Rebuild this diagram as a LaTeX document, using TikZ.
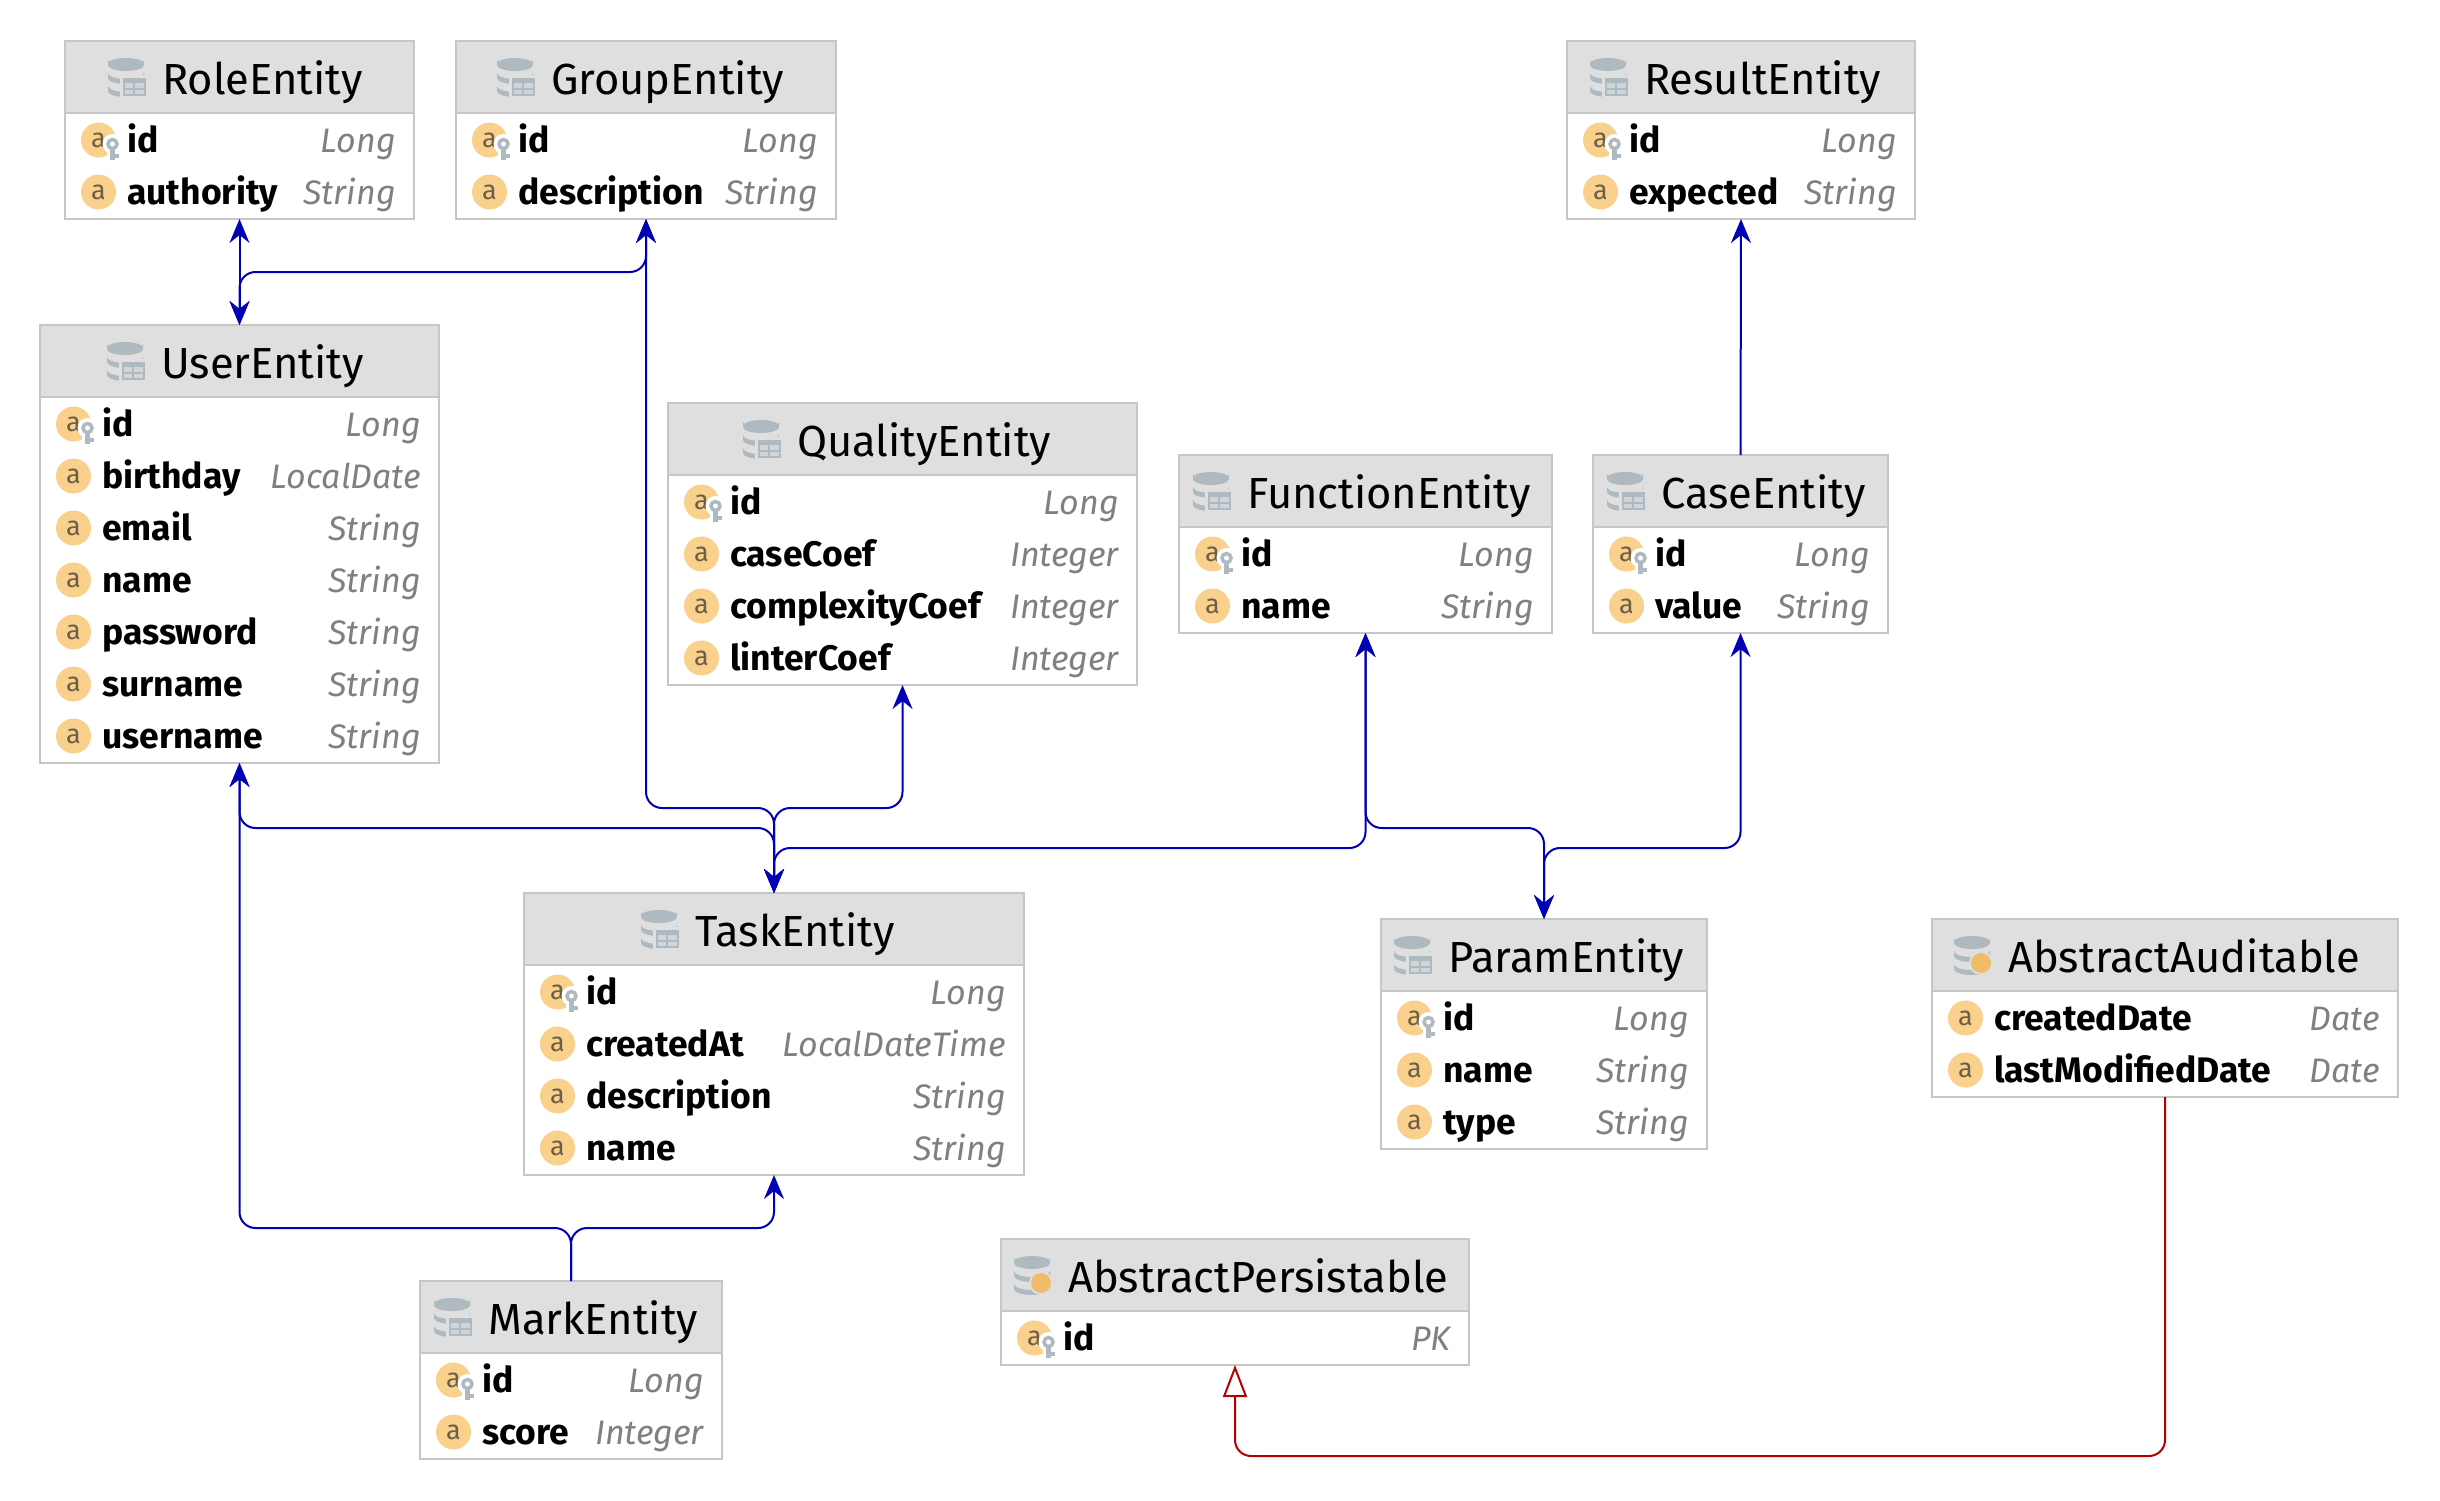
\documentclass[tikz,border=0pt]{standalone}
\usepackage{fontspec}
\setmainfont{Fira Sans}
\usetikzlibrary{arrows.meta}
\definecolor{hdrgrey}{HTML}{DFDFDF}
\definecolor{edgegrey}{HTML}{C6C6C6}
\definecolor{icongrey}{HTML}{AEB9C0}
\definecolor{cellgrey}{HTML}{CFD5D9}
\definecolor{fieldtan}{HTML}{F9D08C}
\definecolor{lettertan}{HTML}{6E5F48}
\definecolor{dotorange}{HTML}{F0BC6A}
\definecolor{typegrey}{HTML}{808080}
\definecolor{assocblue}{HTML}{0000B4}
\definecolor{inheritred}{HTML}{B40000}
\tikzset{
  tablebox/.style={draw=edgegrey,line width=2pt,fill=white,inner sep=0pt,outer sep=0pt},
  headbox/.style={fill=hdrgrey,inner sep=0pt,outer sep=0pt,anchor=north},
  titletext/.style={inner sep=0pt,anchor=base west,font=\fontsize{43.5}{50}\selectfont},
  fieldtext/.style={inner sep=0pt,anchor=base west,font=\fontsize{35.5}{40}\selectfont\bfseries},
  typetext/.style={inner sep=0pt,anchor=base east,text=typegrey,font=\fontsize{34}{40}\selectfont\itshape},
  fieldicon/.style={circle,fill=fieldtan,minimum size=35pt,inner sep=0pt,text=lettertan,font=\fontsize{27}{30}\selectfont},
  assoc/.style={assocblue,line width=2pt,rounded corners=16pt,>={Stealth[length=24pt,width=20pt,inset=8pt]}},
  inherit/.style={inheritred,line width=2pt,rounded corners=16pt},
  dbicon/.pic={
    \foreach \dy in {-13,0,13}{
      \fill[icongrey] (-18,\dy-4) -- (-18,\dy+1) arc[start angle=180,end angle=0,x radius=18,y radius=6] -- (18,\dy-4) arc[start angle=0,end angle=180,x radius=18,y radius=6] -- cycle;
    }
    \fill[icongrey] (0,-13) ellipse[x radius=18,y radius=6];
  },
  tablemark/.pic={
    \fill[hdrgrey] (-6,-2) rectangle (22,21);
    \fill[icongrey] (-3,1) rectangle (20,19);
    \fill[cellgrey] (-1,6) rectangle (7,11);
    \fill[cellgrey] (9,6) rectangle (18,11);
    \fill[cellgrey] (-1,13) rectangle (7,17);
    \fill[cellgrey] (9,13) rectangle (18,17);
  },
  dotmark/.pic={
    \fill[hdrgrey] (9,8) circle[radius=12];
    \fill[dotorange] (9,8) circle[radius=10];
  },
  keymark/.pic={
    \fill[white] (14,4) circle[radius=10];
    \fill[white] (8,4) rectangle (20,22);
    \draw[icongrey,line width=3.5pt] (14,4) circle[radius=4.5];
    \fill[icongrey] (11,9) rectangle (16,20);
    \fill[icongrey] (16,14) rectangle (20,18);
  }
}
\def\idname{id}
% name, left, top, right, bottom, title x, icon mark, title, fields
\newcommand{\entity}[9]{
  \node[tablebox,minimum width={(#4-#2)*1pt},minimum height={(#5-#3)*1pt}] (#1) at ({(#2+#4)/2},{(#3+#5)/2}) {};
  \node[headbox,minimum width={(#4-#2-2)*1pt},minimum height=71pt] (#1-head) at ({(#2+#4)/2},#3+1) {};
  \draw[edgegrey,line width=2pt] (#1-head.south west)--(#1-head.south east);
  \pic at (#6-36,#3+36) {dbicon};
  \pic at (#6-36,#3+36) {#7};
  \node[titletext] (#1-title) at (#6,#3+53) {#8};
  \foreach \fld/\typ [count=\i] in {#9}{
    \pgfmathsetmacro\rowy{#3+99+(\i-1)*52}
    \node[fieldicon] (#1-a\i) at (#2+33.5,\rowy) {a};
    \ifx\fld\idname \pic at (#1-a\i) {keymark}; \fi
    \node[fieldtext] (#1-f\i) at (#2+62,\rowy+12) {\fld};
    \node[typetext] (#1-t\i) at (#4-18,\rowy+12) {\typ};
  }
}
\begin{document}
\begin{tikzpicture}[x=1pt,y=-1pt]
\useasboundingbox[fill=white] (0,0) rectangle (2440,1500);
\entity{role}{65}{41}{414}{219}{162}{tablemark}{RoleEntity}{id/Long,authority/String}
\entity{group}{456}{41}{836}{219}{551}{tablemark}{GroupEntity}{id/Long,description/String}
\entity{result}{1567}{41}{1915}{219}{1644}{tablemark}{ResultEntity}{id/Long,expected/String}
\entity{user}{40}{325}{439}{763}{161}{tablemark}{UserEntity}{id/Long,birthday/LocalDate,email/String,name/String,password/String,surname/String,username/String}
\entity{quality}{668}{403}{1137}{685}{797}{tablemark}{QualityEntity}{id/Long,caseCoef/Integer,complexityCoef/Integer,linterCoef/Integer}
\entity{function}{1179}{455}{1552}{633}{1247}{tablemark}{FunctionEntity}{id/Long,name/String}
\entity{case}{1593}{455}{1888}{633}{1661}{tablemark}{CaseEntity}{id/Long,value/String}
\entity{task}{524}{893}{1024}{1175}{695}{tablemark}{TaskEntity}{id/Long,createdAt/LocalDateTime,description/String,name/String}
\entity{param}{1381}{919}{1707}{1149}{1448}{tablemark}{ParamEntity}{id/Long,name/String,type/String}
\entity{audit}{1932}{919}{2398}{1097}{2008}{dotmark}{AbstractAuditable}{createdDate/Date,lastModifiedDate/Date}
\entity{persist}{1001}{1239}{1469}{1365}{1068}{dotmark}{AbstractPersistable}{id/PK}
\entity{mark}{420}{1281}{722}{1459}{488}{tablemark}{MarkEntity}{id/Long,score/Integer}

\coordinate (buslow) at (0,272);
\coordinate (busa) at (0,808);
\coordinate (busb) at (0,828);
\coordinate (busc) at (0,848);
\coordinate (busmark) at (0,1228);
\coordinate (busred) at (0,1456);

\draw[assoc,<->] (role.south)--(user.north);
\draw[assoc,<->] (group.south) |- (buslow -| user.north) -- (user.north);
\draw[assoc,<->] (group.south) |- (busa -| task.north) -- (task.north);
\draw[assoc,<->] (quality.south) |- (busa -| task.north) -- (task.north);
\draw[assoc,<->] (user.south) |- (busb -| task.north) -- (task.north);
\draw[assoc,<->] (function.south) |- (busc -| task.north) -- (task.north);
\draw[assoc,<->] (function.south) |- (busb -| param.north) -- (param.north);
\draw[assoc,<->] (case.south) |- (busc -| param.north) -- (param.north);
\draw[assoc,->] (case.north)--(result.south);
\draw[assoc,->] (mark.north) |- (busmark -| user.south) -- (user.south);
\draw[assoc,->] (mark.north) |- (busmark -| task.south) -- (task.south);
\draw[inherit,-{Triangle[open,length=32pt,width=24pt]}] (audit.south) |- (busred -| persist.south) -- (persist.south);
\end{tikzpicture}
\end{document}
